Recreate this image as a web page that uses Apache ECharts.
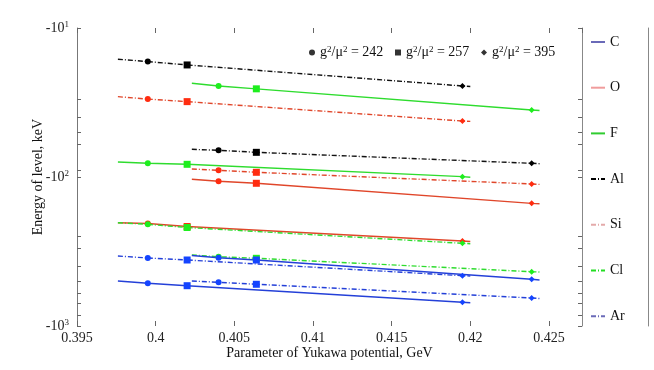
<!DOCTYPE html>
<html>
<head>
<meta charset="utf-8">
<script src="https://cdn.jsdelivr.net/npm/echarts@6/dist/echarts.min.js"></script>
<style>
  html, body { margin: 0; padding: 0; background: #fff; }
  #chart { width: 654px; height: 370px; }
</style>
</head>
<body>
<div id="chart"></div>
<script>
// x positions (GeV): line start, g2/mu2 = 242, 257, 395, line end
const xFamilyA = [0.3976, 0.3995, 0.4020, 0.4195, 0.4200];
const xFamilyB = [0.4023, 0.4040, 0.4064, 0.4239, 0.4244];

// |E| of levels, keV (plotted as -E on the axis)
const alA = [16.2, 16.8, 17.7, 24.5, 24.7];
const fB = [23.5, 24.5, 25.6, 35.5, 35.8];
const siA = [28.9, 30.0, 31.2, 42.1, 42.3];
const alB = [65.2, 66.2, 68.3, 80.9, 81.4];
const fA = [79.3, 80.9, 82.2, 99.5, 100.3];
const siB = [88.3, 90.2, 93.0, 111.4, 112.1];
const oB = [103.6, 106.9, 110.2, 150.2, 151.3];
const oA = [202.6, 205.0, 214.9, 268.9, 270.9];
const clA = [202.6, 207.7, 218.3, 278.6, 280.4];
const clB = [333.8, 342.7, 351.3, 432.0, 434.0];
const cB = [336.4, 348.0, 360.6, 485.9, 491.0];
const arA = [339.0, 349.6, 360.6, 459.6, 461.8];
const arB = [498.9, 508.9, 524.8, 648.7, 653.8];
const cA = [498.9, 517.0, 536.5, 693.0, 698.8];

const elements = ['C', 'O', 'F', 'Al', 'Si', 'Cl', 'Ar'];
const gValues = ['242', '257', '395'];
const xTicks = [0.395, 0.4, 0.405, 0.41, 0.415, 0.42, 0.425];
const yTicks = [10, 30, 40, 50, 60, 90, 100, 250, 300, 400, 500, 600, 700, 850, 1000];

const markerShapes = ['none', 'circle', 'rect', 'diamond', 'none'];
const markerSizes = [0, 6, 7, 6, 0];
const gShapes = ['circle', 'rect', 'diamond'];

const font = 'Liberation Serif';
const dashDot = [5, 2, 1, 2];

const blue = '#2440d8', blueMk = '#1444ff';
const red = '#e0462a', redMk = '#ff2c10';
const green = '#2edc2e', greenMk = '#1eee1e';
const black = '#111', blackMk = '#000';

const legendStyle = {
  C: {color: '#6a6ab8', type: 'solid'},
  O: {color: '#f09c9c', type: 'solid'},
  F: {color: '#30cc30', type: 'solid'},
  Al: {color: '#000', type: dashDot},
  Si: {color: '#e4aaaa', type: dashDot},
  Cl: {color: '#22dd22', type: dashDot},
  Ar: {color: '#6a6ab8', type: dashDot},
};

function levelSeries(name, xs, energies, color, markColor, dashed) {
  return {
    name: name,
    type: 'line',
    xAxisIndex: 0,
    yAxisIndex: 0,
    symbol: 'circle',
    showSymbol: true,
    silent: true,
    data: xs.map((x, i) => ({
      value: [x, energies[i]],
      symbol: markerShapes[i],
      symbolSize: markerSizes[i],
    })),
    lineStyle: {color: color, width: 1.4, type: dashed ? dashDot : 'solid'},
    itemStyle: {color: markColor},
  };
}

// dummy series that only feed the legends
const legendSeries = elements.map((el) => ({
  name: el,
  type: 'line',
  symbol: 'none',
  data: [],
  lineStyle: {color: legendStyle[el].color, width: 1, type: legendStyle[el].type},
  itemStyle: {color: legendStyle[el].color},
}));
const gSeries = gValues.map((g, i) => ({
  name: g,
  type: 'scatter',
  symbol: gShapes[i],
  data: [],
  itemStyle: {color: '#000'},
}));

const dataSeries = [
  levelSeries('Al-A', xFamilyA, alA, black, blackMk, true),
  levelSeries('F-B', xFamilyB, fB, green, greenMk, false),
  levelSeries('Si-A', xFamilyA, siA, red, redMk, true),
  levelSeries('Al-B', xFamilyB, alB, black, blackMk, true),
  levelSeries('F-A', xFamilyA, fA, green, greenMk, false),
  levelSeries('Si-B', xFamilyB, siB, red, redMk, true),
  levelSeries('O-B', xFamilyB, oB, red, redMk, false),
  levelSeries('O-A', xFamilyA, oA, red, redMk, false),
  levelSeries('Cl-A', xFamilyA, clA, green, greenMk, true),
  levelSeries('Cl-B', xFamilyB, clB, green, greenMk, true),
  levelSeries('Ar-A', xFamilyA, arA, blue, blueMk, true),
  levelSeries('C-B', xFamilyB, cB, blue, blueMk, false),
  levelSeries('Ar-B', xFamilyB, arB, blue, blueMk, true),
  levelSeries('C-A', xFamilyA, cA, blue, blueMk, false),
];

const supRich = {
  sup: {fontSize: 9, fontFamily: font, verticalAlign: 'top', padding: [0, 0, 6, 0]},
};

function yLabel(v) {
  return '-10{sup|' + Math.round(Math.log10(v)) + '}';
}

const logAxisBase = {
  type: 'log',
  logBase: 10,
  min: 10,
  max: 1000,
  inverse: true,
  splitLine: {show: false},
};

const gLegends = gValues.map((g, i) => ({
  data: [g],
  left: [304, 390, 476][i],
  top: 40,
  itemWidth: 6,
  itemHeight: 6,
  formatter: (name) => 'g{sup|2}/\u03bc{sup|2} = ' + name,
  textStyle: {fontFamily: font, fontSize: 14, color: '#111', rich: supRich},
}));

const myChart = echarts.init(document.getElementById('chart'));
myChart.setOption({
  animation: false,
  backgroundColor: '#fff',
  grid: {left: 77, right: 72, top: 28, bottom: 44},
  legend: [
    {
      data: elements,
      orient: 'vertical',
      left: 585,
      top: 30,
      itemWidth: 14,
      itemHeight: 14,
      itemGap: 31.7,
      itemStyle: {opacity: 0},
      textStyle: {fontFamily: font, fontSize: 14, color: '#111'},
    },
    ...gLegends,
  ],
  xAxis: [
    {
      type: 'value',
      position: 'bottom',
      min: 0.395,
      max: 0.4271,
      interval: 0.005,
      name: 'Parameter of Yukawa potential, GeV',
      nameLocation: 'middle',
      nameGap: 20,
      nameMoveOverlap: false,
      nameTextStyle: {fontFamily: font, fontSize: 14, color: '#111'},
      axisLine: {show: false},
      axisTick: {show: true, inside: true, length: 5, lineStyle: {color: '#666'}},
      axisLabel: {
        margin: 5,
        fontFamily: font,
        fontSize: 14,
        color: '#222',
        showMaxLabel: false,
        formatter: (v) => (xTicks.some((t) => Math.abs(t - v) < 1e-6) ? String(+v.toFixed(3)) : ''),
      },
      splitLine: {show: false},
    },
    {
      type: 'value',
      position: 'top',
      min: 0.395,
      max: 0.4271,
      interval: 0.005,
      axisLine: {show: false},
      axisTick: {show: true, inside: true, length: 5, lineStyle: {color: '#666'}},
      axisLabel: {show: false},
      splitLine: {show: false},
    },
  ],
  yAxis: [
    {
      ...logAxisBase,
      position: 'left',
      name: 'Energy of level, keV',
      nameLocation: 'middle',
      nameGap: 32,
      nameMoveOverlap: false,
      nameTextStyle: {fontFamily: font, fontSize: 14, color: '#111'},
      axisLine: {show: true, lineStyle: {color: '#777'}},
      axisTick: {show: true, inside: true, length: 4, customValues: yTicks, lineStyle: {color: '#666'}},
      axisLabel: {
        margin: 8,
        fontFamily: font,
        fontSize: 14,
        color: '#222',
        formatter: yLabel,
        rich: supRich,
      },
    },
    {
      ...logAxisBase,
      position: 'right',
      axisLine: {show: true, lineStyle: {color: '#888'}},
      axisTick: {show: true, inside: true, length: 4, customValues: yTicks, lineStyle: {color: '#666'}},
      axisLabel: {show: false},
    },
    {
      ...logAxisBase,
      position: 'right',
      offset: 66,
      axisLine: {show: true, lineStyle: {color: '#888'}},
      axisTick: {show: false},
      axisLabel: {show: false},
    },
  ],
  series: [...legendSeries, ...gSeries, ...dataSeries],
});
</script>
</body>
</html>
